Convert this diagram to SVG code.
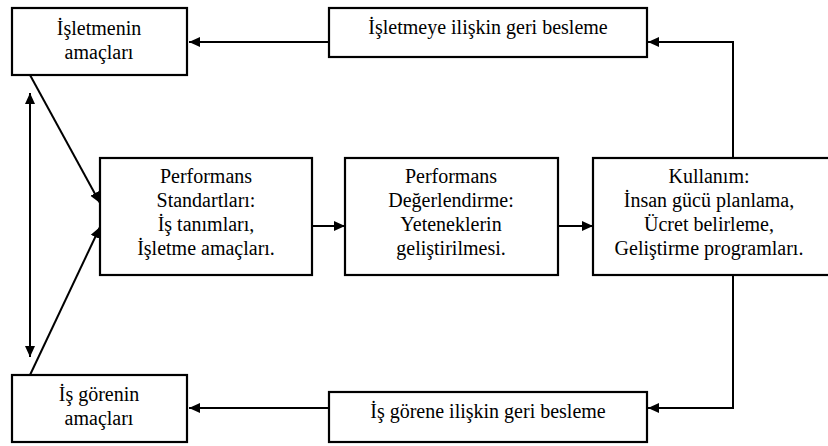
<svg xmlns="http://www.w3.org/2000/svg" width="828" height="446" viewBox="0 0 828 446">
<defs>
<style>
.box{fill:#fff;stroke:#000;stroke-width:2.2}
.t{font-family:'Liberation Serif','DejaVu Serif',serif;font-size:20px;fill:#000;text-anchor:middle}
.c{fill:none;stroke:#000;stroke-width:2}
</style>
<marker id="ah" markerUnits="userSpaceOnUse" markerWidth="12" markerHeight="12" viewBox="0 0 12 12" refX="11" refY="6" orient="auto">
<path d="M0,1 L11,6 L0,11 Z" fill="#000"/>
</marker>
<marker id="ahs" markerUnits="userSpaceOnUse" markerWidth="12" markerHeight="12" viewBox="0 0 12 12" refX="11" refY="6" orient="auto-start-reverse">
<path d="M0,1 L11,6 L0,11 Z" fill="#000"/>
</marker>
</defs>
<rect width="828" height="446" fill="#fff"/>
<g id="connectors">
<line class="c" x1="329" y1="42" x2="189" y2="42" marker-end="url(#ah)"/>
<polyline class="c" points="733,157 733,42 648,42" stroke="#222" marker-end="url(#ah)"/>
<polyline class="c" points="733,276 733,408 648,408" stroke="#555" marker-end="url(#ah)"/>
<line class="c" x1="329" y1="408" x2="189" y2="408" marker-end="url(#ah)"/>
<line class="c" x1="30" y1="93" x2="30" y2="357" marker-start="url(#ahs)" marker-end="url(#ah)"/>
<line class="c" x1="30" y1="75" x2="100" y2="203" marker-end="url(#ah)"/>
<line class="c" x1="30" y1="375" x2="100" y2="227" marker-end="url(#ah)"/>
<line class="c" x1="312" y1="226" x2="345" y2="226" marker-end="url(#ah)"/>
<line class="c" x1="558" y1="226" x2="593" y2="226" marker-end="url(#ah)"/>
</g>
<g id="n-isletme-amac">
<rect class="box" x="12" y="8" width="175" height="67"/>
<text class="t" x="99" y="35" font-family="Liberation Serif">İşletmenin</text>
<text class="t" x="99" y="59">amaçları</text>
</g>
<g id="n-isletme-geri">
<rect class="box" x="329" y="8" width="318" height="49"/>
<text class="t" x="488" y="34">İşletmeye ilişkin geri besleme</text>
</g>
<g id="n-standart">
<rect class="box" x="100" y="158" width="212" height="117"/>
<text class="t" x="206" y="183">Performans</text>
<text class="t" x="206" y="207">Standartları:</text>
<text class="t" x="206" y="231">İş tanımları,</text>
<text class="t" x="206" y="255">İşletme amaçları.</text>
</g>
<g id="n-degerlendirme">
<rect class="box" x="345" y="158" width="213" height="117"/>
<text class="t" x="451" y="183">Performans</text>
<text class="t" x="451" y="207">Değerlendirme:</text>
<text class="t" x="451" y="231">Yeteneklerin</text>
<text class="t" x="451" y="255">geliştirilmesi.</text>
</g>
<g id="n-kullanim">
<rect class="box" x="593" y="158" width="240" height="117"/>
<text class="t" x="709" y="183">Kullanım:</text>
<text class="t" x="709" y="207">İnsan gücü planlama,</text>
<text class="t" x="709" y="231">Ücret belirleme,</text>
<text class="t" x="709" y="255">Geliştirme programları.</text>
</g>
<g id="n-isgoren-amac">
<rect class="box" x="12" y="375" width="175" height="67"/>
<text class="t" x="99" y="401">İş görenin</text>
<text class="t" x="99" y="425">amaçları</text>
</g>
<g id="n-isgoren-geri">
<rect class="box" x="329" y="392" width="318" height="50"/>
<text class="t" x="488" y="418">İş görene ilişkin geri besleme</text>
</g>
</svg>
